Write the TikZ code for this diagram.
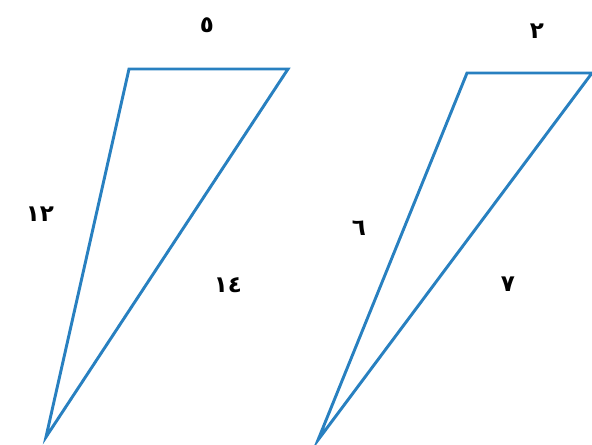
\documentclass[tikz,border=0pt]{standalone}
\usepackage{fontspec}
\newfontfamily\arabicfont[Script=Arabic]{DejaVu Sans}
\definecolor{sideblue}{RGB}{40,128,192}
\tikzset{side/.style={color=sideblue, line width=2.2pt, line join=miter},
	num/.style={font=\arabicfont\bfseries\LARGE, inner sep=1pt}}
\begin{document}
\begin{tikzpicture}[x=0.75pt,y=-0.75pt, line cap=round]
		\useasboundingbox (0,0) rectangle (592,444);
		\begin{scope}
			\coordinate (A1) at (129,69);
			\coordinate (B1) at (288,69);
			\coordinate (C1) at (46,437);
			\draw[side] (A1)--(B1)--(C1)--cycle;
			\node[num] (a5) at (207,25) {٥};
			\node[num] (a12) at (40,214) {١٢};
			\node[num] (a14) at (228,285) {١٤};
		\end{scope}
		\begin{scope}
			\coordinate (A2) at (467,73);
			\coordinate (B2) at (592,73);
			\coordinate (C2) at (318,440);
			\draw[side] (A2)--(B2)--(C2)--cycle;
			\node[num] (b2) at (537,31) {٢};
			\node[num] (b6) at (359,228) {٦};
			\node[num] (b7) at (508,284) {٧};
		\end{scope}
	\end{tikzpicture}
\end{document}
